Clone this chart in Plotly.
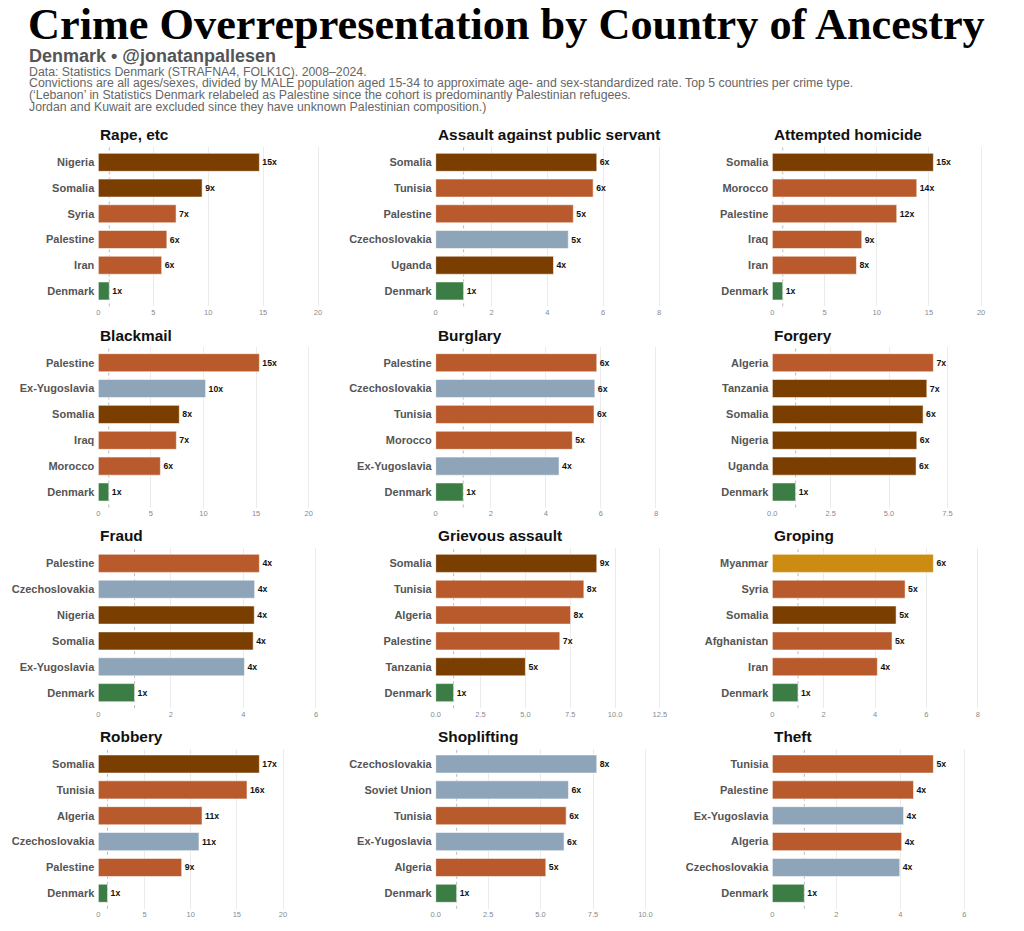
import plotly.graph_objects as go

# crime panels, in reading order (3 per row)
crime_titles = [
    "Rape, etc", "Assault against public servant", "Attempted homicide",
    "Blackmail", "Burglary", "Forgery",
    "Fraud", "Grievous assault", "Groping",
    "Robbery", "Shoplifting", "Theft",
]

rape_countries = ["Nigeria", "Somalia", "Syria", "Palestine", "Iran", "Denmark"]
rape_values = [14.66, 9.45, 7.08, 6.24, 5.77, 1.0]

servant_countries = ["Somalia", "Tunisia", "Palestine", "Czechoslovakia", "Uganda", "Denmark"]
servant_values = [5.77, 5.64, 4.93, 4.75, 4.22, 1.0]

homicide_countries = ["Somalia", "Morocco", "Palestine", "Iraq", "Iran", "Denmark"]
homicide_values = [15.43, 13.84, 11.92, 8.57, 8.06, 1.0]

blackmail_countries = ["Palestine", "Ex-Yugoslavia", "Somalia", "Iraq", "Morocco", "Denmark"]
blackmail_values = [15.31, 10.2, 7.7, 7.42, 5.9, 1.0]

burglary_countries = ["Palestine", "Czechoslovakia", "Tunisia", "Morocco", "Ex-Yugoslavia", "Denmark"]
burglary_values = [5.85, 5.78, 5.75, 4.96, 4.48, 1.0]

forgery_countries = ["Algeria", "Tanzania", "Somalia", "Nigeria", "Uganda", "Denmark"]
forgery_values = [6.9, 6.62, 6.46, 6.19, 6.16, 1.0]

fraud_countries = ["Palestine", "Czechoslovakia", "Nigeria", "Somalia", "Ex-Yugoslavia", "Denmark"]
fraud_values = [4.44, 4.31, 4.30, 4.27, 4.03, 1.0]

grievous_countries = ["Somalia", "Tunisia", "Algeria", "Palestine", "Tanzania", "Denmark"]
grievous_values = [8.98, 8.26, 7.52, 6.92, 5.0, 1.0]

groping_countries = ["Myanmar", "Syria", "Somalia", "Afghanistan", "Iran", "Denmark"]
groping_values = [6.27, 5.17, 4.82, 4.66, 4.09, 1.0]

robbery_countries = ["Somalia", "Tunisia", "Algeria", "Czechoslovakia", "Palestine", "Denmark"]
robbery_values = [17.44, 16.1, 11.23, 10.9, 9.03, 1.0]

shoplifting_countries = ["Czechoslovakia", "Soviet Union", "Tunisia", "Ex-Yugoslavia", "Algeria", "Denmark"]
shoplifting_values = [7.68, 6.33, 6.22, 6.12, 5.25, 1.0]

theft_countries = ["Tunisia", "Palestine", "Ex-Yugoslavia", "Algeria", "Czechoslovakia", "Denmark"]
theft_values = [5.03, 4.41, 4.1, 4.04, 3.98, 1.0]

countries_by_crime = [
    rape_countries, servant_countries, homicide_countries,
    blackmail_countries, burglary_countries, forgery_countries,
    fraud_countries, grievous_countries, groping_countries,
    robbery_countries, shoplifting_countries, theft_countries,
]
values_by_crime = [
    rape_values, servant_values, homicide_values,
    blackmail_values, burglary_values, forgery_values,
    fraud_values, grievous_values, groping_values,
    robbery_values, shoplifting_values, theft_values,
]

# x-axis breaks per panel
ticks_by_crime = [
    [0, 5, 10, 15, 20], [0, 2, 4, 6, 8], [0, 5, 10, 15, 20],
    [0, 5, 10, 15, 20], [0, 2, 4, 6, 8], [0, 2.5, 5, 7.5],
    [0, 2, 4, 6], [0, 2.5, 5, 7.5, 10, 12.5], [0, 2, 4, 6, 8],
    [0, 5, 10, 15, 20], [0, 2.5, 5, 7.5, 10], [0, 2, 4, 6],
]

region_of = {
    "Nigeria": "africa", "Somalia": "africa", "Uganda": "africa", "Tanzania": "africa",
    "Syria": "mena", "Palestine": "mena", "Iran": "mena", "Tunisia": "mena",
    "Morocco": "mena", "Iraq": "mena", "Algeria": "mena", "Afghanistan": "mena",
    "Czechoslovakia": "europe", "Ex-Yugoslavia": "europe", "Soviet Union": "europe",
    "Myanmar": "asia", "Denmark": "denmark",
}
palette = {
    "africa": "#7a3e00", "mena": "#b85a2b", "europe": "#8ea4b8",
    "asia": "#cb8c11", "denmark": "#3b7d44",
}

description_lines = [
    "Data: Statistics Denmark (STRAFNA4, FOLK1C). 2008–2024.",
    "Convictions are all ages/sexes, divided by MALE population aged 15-34 to approximate age- and sex-standardized rate. Top 5 countries per crime type.",
    "(‘Lebanon’ in Statistics Denmark relabeled as Palestine since the cohort is predominantly Palestinian refugees.",
    "Jordan and Kuwait are excluded since they have unknown Palestinian composition.)",
]

# the page body keeps its 8px margin, so the figure is 16px smaller than the window
PAD = 8
W, H = 1024 - 2 * PAD, 931 - 2 * PAD
SANS = "Liberation Sans, Arial, sans-serif"


def fx(px):
    return (px - PAD) / W


def fy(py):
    return 1 - (py - PAD) / H


# panel boxes in window pixels
col_px = [(98.3, 323.8), (435.7, 661.2), (772.3, 997.8)]
row_px = [(146.9, 306.4), (347.2, 507.5), (547.8, 708.2), (748.5, 908.8)]

fig = go.Figure()
annotations = []
shapes = []

for i, title in enumerate(crime_titles):
    r, c = divmod(i, 3)
    n = i + 1
    xa = "x" if n == 1 else f"x{n}"
    ya = "y" if n == 1 else f"y{n}"
    cats = countries_by_crime[i]
    vals = values_by_crime[i]

    fig.add_trace(go.Bar(
        x=vals, y=cats, orientation="h", xaxis=xa, yaxis=ya,
        width=0.7,
        marker=dict(color=[palette[region_of[k]] for k in cats],
                    line=dict(color="rgba(255,255,255,0.55)", width=1)),
        text=[f"{round(v)}x" for v in vals],
        textposition="outside", constraintext="none", cliponaxis=False,
        textfont=dict(family=SANS, size=8.7, color="#111111", weight="bold"),
        showlegend=False, hoverinfo="skip",
    ))

    x0, x1 = col_px[c]
    y0, y1 = row_px[r]
    ticks = ticks_by_crime[i]
    if any(t != int(t) for t in ticks):
        tick_text = [f"{t:.1f}" for t in ticks]
    else:
        tick_text = [str(int(t)) for t in ticks]

    fig.update_layout({
        ("xaxis" if n == 1 else f"xaxis{n}"): dict(
            domain=[fx(x0), fx(x1)], anchor=ya, range=[0, max(vals) * 1.4],
            tickvals=ticks, ticktext=tick_text, showgrid=True, gridcolor="#ebebeb",
            gridwidth=1, zeroline=False, showline=False, ticks="", automargin=False,
            tickfont=dict(family=SANS, size=7.5, color="#8a8a8a"),
        ),
        ("yaxis" if n == 1 else f"yaxis{n}"): dict(
            domain=[fy(y1), fy(y0)], anchor=xa, type="category",
            categoryorder="array", categoryarray=cats, range=[5.6, -0.6],
            showgrid=False, zeroline=False, showline=False, ticks="", automargin=False,
            ticklabelstandoff=3,
            tickfont=dict(family=SANS, size=11, color="#555555", weight="bold"),
        ),
    })

    # dotted reference line at the Danish level (1x)
    shapes.append(dict(type="line", xref=xa, yref=f"{ya} domain", x0=1, x1=1, y0=0, y1=1,
                       line=dict(color="#bbbbbb", width=1, dash="dot"), layer="below"))

    annotations.append(dict(
        text=title, xref="paper", yref="paper", x=fx(x0), y=fy(y0 - 12),
        xanchor="left", yanchor="middle", showarrow=False,
        font=dict(family=SANS, size=15.4, color="#111111", weight="bold"),
    ))

annotations.append(dict(
    text="Crime Overrepresentation by Country of Ancestry", xref="paper", yref="paper",
    x=fx(25.5), y=fy(24), xanchor="left", yanchor="middle", showarrow=False,
    font=dict(family="Liberation Serif, Times New Roman, serif", size=44.3, color="#000000",
              weight="bold"),
))
annotations.append(dict(
    text="Denmark • @jonatanpallesen", xref="paper", yref="paper",
    x=fx(27), y=fy(56.5), xanchor="left", yanchor="middle", showarrow=False,
    font=dict(family=SANS, size=18, color="#555555", weight="bold"),
))
for k, line in enumerate(description_lines):
    annotations.append(dict(
        text=line, xref="paper", yref="paper",
        x=fx(27), y=fy(71.8 + 11.6 * k), xanchor="left", yanchor="middle",
        showarrow=False, font=dict(family=SANS, size=12.3, color="#666666"),
    ))

fig.update_layout(
    width=W, height=H, margin=dict(l=0, r=0, t=0, b=0, autoexpand=False),
    paper_bgcolor="white", plot_bgcolor="white",
    bargap=0.3, annotations=annotations, shapes=shapes,
)

fig.write_html("out.html", config={"displayModeBar": False})
